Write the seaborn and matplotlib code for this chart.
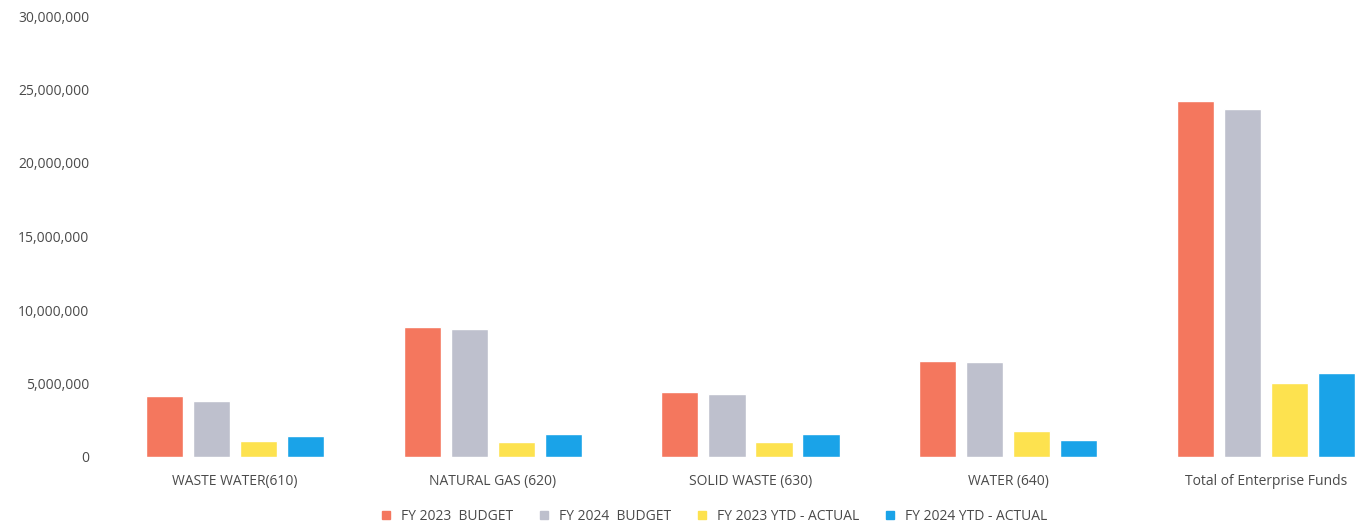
import matplotlib
matplotlib.use("Agg")
import matplotlib.pyplot as plt
import matplotlib.ticker as mticker
from matplotlib.lines import Line2D
import pandas as pd
import seaborn as sns

# ---- data ----
categories = [
    "WASTE WATER(610)",
    "NATURAL GAS (620)",
    "SOLID WASTE (630)",
    "WATER (640)",
    "Total of Enterprise Funds",
]
series_names = [
    "FY 2023  BUDGET",
    "FY 2024  BUDGET",
    "FY 2023 YTD - ACTUAL",
    "FY 2024 YTD - ACTUAL",
]
fy23_budget = [4160000, 8840000, 4420000, 6500000, 24200000]
fy24_budget = [3820000, 8700000, 4300000, 6460000, 23700000]
fy23_actual = [1090000, 1020000, 1020000, 1770000, 5030000]
fy24_actual = [1430000, 1560000, 1560000, 1130000, 5700000]
y_ticks = [0, 5000000, 10000000, 15000000, 20000000, 25000000, 30000000]

colors = ["#F4775E", "#BEC0CD", "#FDE24F", "#1AA3E8"]

rows = []
for name, vals in zip(series_names, [fy23_budget, fy24_budget, fy23_actual, fy24_actual]):
    for cat, v in zip(categories, vals):
        rows.append({"category": cat, "series": name, "amount": v})
df = pd.DataFrame(rows)

sns.set_style("white")
plt.rcParams["font.family"] = ["Open Sans", "DejaVu Sans"]

fig = plt.figure(figsize=(13.57, 5.30), dpi=100)
ax = fig.add_axes([106 / 1357, 73 / 530, (1357 - 106) / 1357, 441 / 530])

sns.barplot(
    data=df, x="category", y="amount", hue="series",
    order=categories, hue_order=series_names, palette=colors,
    width=0.73, gap=0.21, saturation=1, legend=False, ax=ax,
)

ax.set_ylim(0, 30000000)
ax.set_xlim(-0.5, 4.353)
ax.set_yticks(y_ticks)
ax.yaxis.set_major_formatter(mticker.FuncFormatter(lambda v, p: f"{int(v):,}"))
ax.set_xlabel("")
ax.set_ylabel("")
sns.despine(ax=ax, left=True, bottom=True)
ax.tick_params(axis="both", length=0, colors="#4a4a4a", labelsize=10)
ax.tick_params(axis="x", pad=12)
ax.tick_params(axis="y", pad=12)
for lbl in ax.get_xticklabels() + ax.get_yticklabels():
    lbl.set_fontweight("medium")

handles = [
    Line2D([], [], marker="s", linestyle="", markersize=6, color=c, label=n)
    for c, n in zip(colors, series_names)
]
fig.legend(
    handles=handles, loc="center", bbox_to_anchor=(710 / 1357, 14 / 530),
    ncol=4, frameon=False, fontsize=10, handletextpad=0.1,
    columnspacing=1.2, labelcolor="#4a4a4a",
    prop={"weight": "medium", "size": 10},
)

fig.savefig("out.png", dpi=100, facecolor="white")
